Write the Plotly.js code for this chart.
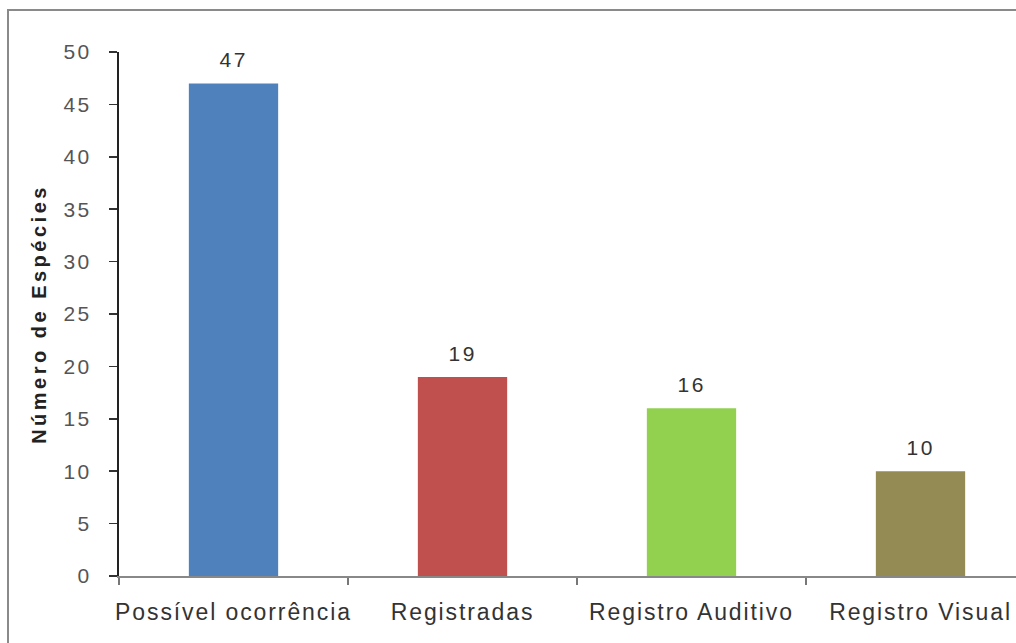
<!DOCTYPE html>
<html>
<head>
<meta charset="utf-8">
<script src="https://cdn.plot.ly/plotly-3.0.1.min.js"></script>
<style>
html,body{margin:0;padding:0;background:#fff;}
#chart{width:1016px;height:643px;}
#chart .ytick text{letter-spacing:2.5px;}
#chart .xtick text{letter-spacing:1.9px;}
#chart .annotation-text{letter-spacing:2.5px;}
#chart .g-ytitle text{letter-spacing:3.5px;}
</style>
</head>
<body>
<div id="chart"></div>
<script>
const categories = ["Possível ocorrência", "Registradas", "Registro Auditivo", "Registro Visual"];
const values = [47, 19, 16, 10];
const barColors = ["#4F81BD", "#C0504D", "#92D050", "#948A54"];
const yTicks = [0, 5, 10, 15, 20, 25, 30, 35, 40, 45, 50];

const W = 1016, H = 643, L = 119, R = 0, T = 52, B = 67;
const pw = W - L - R, ph = H - T - B;
const FONT = "Liberation Sans, Arial, sans-serif";

const trace = {
  type: "bar",
  x: categories,
  y: values,
  marker: {color: barColors, line: {width: 0}},
  width: 0.39,
  hoverinfo: "none"
};

const annotations = categories.map((c, i) => ({
  x: c, y: values[i], xref: "x", yref: "y",
  text: String(values[i]), showarrow: false,
  yanchor: "bottom", yshift: 10,
  font: {family: FONT, size: 21, color: "#333"}
}));

const layout = {
  width: W, height: H,
  margin: {l: L, r: R, t: T, b: B, pad: 0},
  paper_bgcolor: "#fff", plot_bgcolor: "#fff",
  showlegend: false,
  xaxis: {
    type: "category",
    range: [-0.5, -0.5 + pw / 229],
    tickson: "boundaries",
    ticks: "outside", ticklen: 7, tickcolor: "#777", tickwidth: 2,
    showline: true, linecolor: "#888", linewidth: 2,
    showgrid: false, zeroline: false,
    ticklabelstandoff: 14,
    tickfont: {family: FONT, size: 23, color: "#333"}
  },
  yaxis: {
    range: [0, 50],
    tickvals: yTicks,
    ticks: "outside", ticklen: 8, tickcolor: "#333", tickwidth: 1.5,
    showline: true, linecolor: "#222", linewidth: 2,
    showgrid: false, zeroline: false,
    ticklabelstandoff: 13,
    tickfont: {family: FONT, size: 21, color: "#555"},
    title: {text: "<b>Número de Espécies</b>", standoff: 16,
      font: {family: FONT, size: 20, color: "#222"}}
  },
  annotations: annotations,
  shapes: [{
    type: "rect", xref: "paper", yref: "paper",
    x0: (8 - L) / pw, x1: (W + 20 - L) / pw,
    y0: -(B + 20) / ph, y1: 1 + (T - 10) / ph,
    line: {color: "#8a8a8a", width: 2}, fillcolor: "rgba(0,0,0,0)", layer: "below"
  }]
};

Plotly.newPlot("chart", [trace], layout, {displayModeBar: false, staticPlot: true});
</script>
</body>
</html>
